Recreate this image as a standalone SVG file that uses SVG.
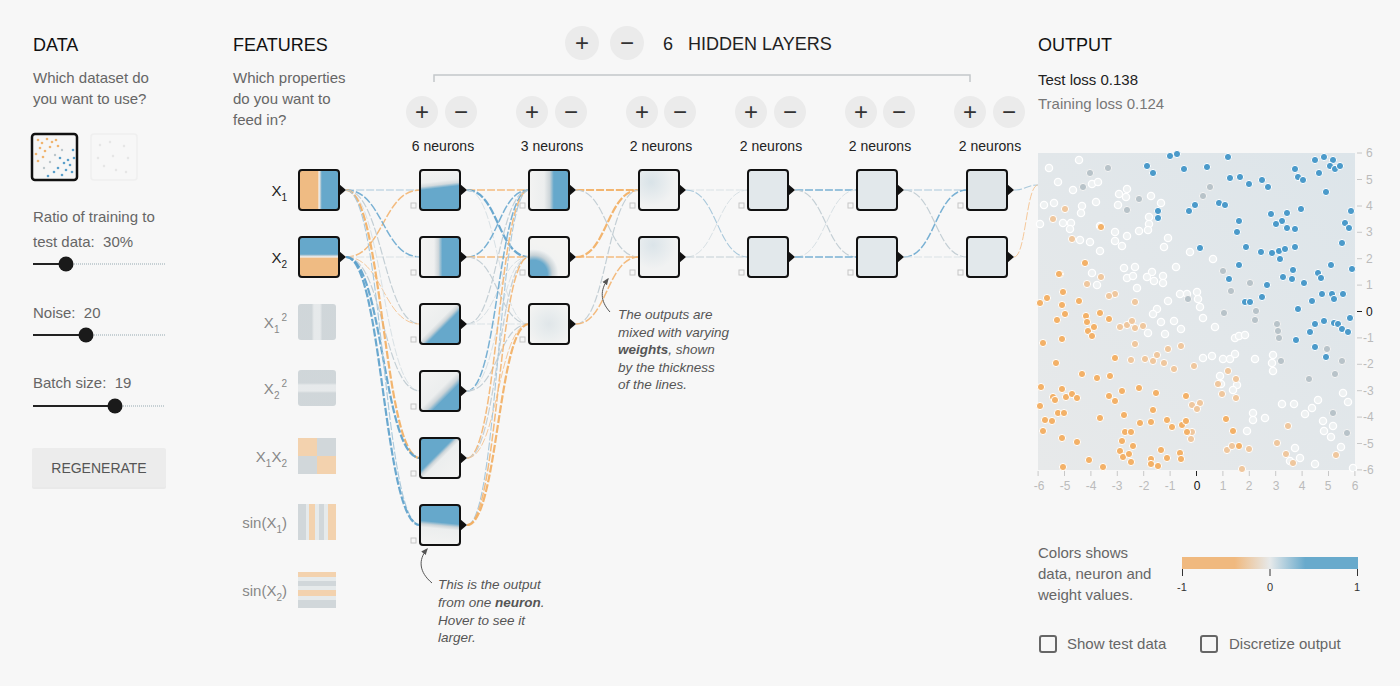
<svg xmlns="http://www.w3.org/2000/svg" width="1400" height="686" viewBox="0 0 1400 686">
<style>
text{font-family:"Liberation Sans",Arial,sans-serif}
.h{font-size:18px;fill:#111}
.t{font-size:15px;fill:#666}
.lbl{font-size:15px;fill:#222}
.lbi{font-size:15px;fill:#888}
.nl{font-size:14px;fill:#222;text-anchor:middle}
.btn{fill:#ebebeb}
.pm{font-size:24px;fill:#333;text-anchor:middle;font-weight:300}
.nb{stroke:#111;stroke-width:2}
.tri{fill:#111}
.bias{fill:none;stroke:#c6c6c6;stroke-width:1}
.lk{fill:none;stroke-dasharray:8 2}
.o1{stroke:#f2ad5f;stroke-width:2.2;opacity:.9}
.o2{stroke:#f3b470;stroke-width:1.5;opacity:.9}
.o3{stroke:#f4c08a;stroke-width:1;opacity:.85}
.b1{stroke:#5a9fca;stroke-width:2.2;opacity:.9}
.b2{stroke:#6aa9cf;stroke-width:1.5;opacity:.9}
.b3{stroke:#a9c8db;stroke-width:1.1}
.g1{stroke:#c4cfd5;stroke-width:1.2}
.g2{stroke:#d9e1e5;stroke-width:1}
.ax{font-size:12px;fill:#bbb}
.tk{stroke:#c8c8c8;stroke-width:1}
.ann{font-size:13.5px;fill:#555;font-style:italic}
.inact{opacity:.8}
.pb circle{fill:#4b9aca;stroke:#fff;stroke-width:1}
.po circle{fill:#f3b168;stroke:#fff;stroke-width:1}
.plo circle{fill:#efc79e;stroke:#fff;stroke-width:1}
.pw circle{fill:#eef1f2;stroke:#fff;stroke-width:1.3}
.pg circle{fill:#b8c3c9;stroke:#f4f4f4;stroke-width:1}
</style>
<defs>
<linearGradient id="gX1" x1="0" y1="0" x2="1" y2="0"><stop offset="0" stop-color="#efbb83"/><stop offset=".47" stop-color="#efbb83"/><stop offset=".5" stop-color="#f4f4f4"/><stop offset=".53" stop-color="#c8d3d8"/><stop offset=".57" stop-color="#66a8cb"/><stop offset="1" stop-color="#66a8cb"/></linearGradient>
<linearGradient id="gX2" x1="0" y1="0" x2="0" y2="1"><stop offset="0" stop-color="#66a8cb"/><stop offset=".43" stop-color="#66a8cb"/><stop offset=".47" stop-color="#c8d3d8"/><stop offset=".5" stop-color="#f4f4f4"/><stop offset=".53" stop-color="#efbb83"/><stop offset="1" stop-color="#efbb83"/></linearGradient>
<linearGradient id="gN1" x1="0" y1="0" x2="0.12" y2="1"><stop offset="0" stop-color="#f3f3f2"/><stop offset=".33" stop-color="#eceeee"/><stop offset=".42" stop-color="#d3dadd"/><stop offset=".5" stop-color="#66a8cb"/><stop offset="1" stop-color="#66a8cb"/></linearGradient>
<linearGradient id="gN2" x1="0" y1="0" x2="1" y2="0"><stop offset="0" stop-color="#f3f3f2"/><stop offset=".35" stop-color="#eeefef"/><stop offset=".46" stop-color="#ced6da"/><stop offset=".56" stop-color="#66a8cb"/><stop offset="1" stop-color="#66a8cb"/></linearGradient>
<linearGradient id="gN3" x1="0" y1="0" x2="1" y2="1"><stop offset="0" stop-color="#f3f3f2"/><stop offset=".45" stop-color="#eceeee"/><stop offset=".52" stop-color="#ccd4d8"/><stop offset=".58" stop-color="#66a8cb"/><stop offset="1" stop-color="#66a8cb"/></linearGradient>
<linearGradient id="gN4" x1="0" y1="0" x2="1" y2="1"><stop offset="0" stop-color="#f3f3f2"/><stop offset=".48" stop-color="#eceeee"/><stop offset=".57" stop-color="#ccd4d8"/><stop offset=".65" stop-color="#66a8cb"/><stop offset="1" stop-color="#66a8cb"/></linearGradient>
<linearGradient id="gN5" x1="0" y1="0" x2="1" y2="1"><stop offset="0" stop-color="#66a8cb"/><stop offset=".42" stop-color="#66a8cb"/><stop offset=".47" stop-color="#ccd4d8"/><stop offset=".53" stop-color="#eceeee"/><stop offset="1" stop-color="#f3f3f2"/></linearGradient>
<linearGradient id="gN6" x1="0" y1="0" x2="-0.1" y2="1"><stop offset="0" stop-color="#66a8cb"/><stop offset=".38" stop-color="#66a8cb"/><stop offset=".46" stop-color="#ccd4d8"/><stop offset=".54" stop-color="#eceeee"/><stop offset="1" stop-color="#f3f3f2"/></linearGradient>
<linearGradient id="gA" x1="0" y1="0" x2="1" y2="0"><stop offset="0" stop-color="#f3f3f2"/><stop offset=".38" stop-color="#eceeee"/><stop offset=".52" stop-color="#ccd4d8"/><stop offset=".62" stop-color="#66a8cb"/><stop offset="1" stop-color="#66a8cb"/></linearGradient>
<radialGradient id="gB" cx=".12" cy=".92" r=".75"><stop offset="0" stop-color="#66a8cb"/><stop offset=".45" stop-color="#66a8cb"/><stop offset=".62" stop-color="#c8d2d7"/><stop offset=".82" stop-color="#f1f2f2"/><stop offset="1" stop-color="#f3f3f2"/></radialGradient>
<radialGradient id="gC" cx=".5" cy=".5" r=".6"><stop offset="0" stop-color="#e0e6e9"/><stop offset=".5" stop-color="#e9edee"/><stop offset="1" stop-color="#f3f3f2"/></radialGradient>
<radialGradient id="gP" cx=".3" cy=".3" r=".6"><stop offset="0" stop-color="#d9e3e8"/><stop offset="1" stop-color="#f1f2f2"/></radialGradient>
<radialGradient id="gQ" cx=".35" cy=".2" r=".6"><stop offset="0" stop-color="#dbe4e9"/><stop offset="1" stop-color="#f1f2f2"/></radialGradient>
<linearGradient id="gX1s" x1="0" y1="0" x2="1" y2="0"><stop offset="0" stop-color="#c6ced2"/><stop offset=".36" stop-color="#c6ced2"/><stop offset=".42" stop-color="#e2e6e8"/><stop offset=".58" stop-color="#e2e6e8"/><stop offset=".64" stop-color="#c6ced2"/><stop offset="1" stop-color="#c6ced2"/></linearGradient>
<linearGradient id="gX2s" x1="0" y1="0" x2="0" y2="1"><stop offset="0" stop-color="#c6ced2"/><stop offset=".36" stop-color="#c6ced2"/><stop offset=".42" stop-color="#e2e6e8"/><stop offset=".58" stop-color="#e2e6e8"/><stop offset=".64" stop-color="#c6ced2"/><stop offset="1" stop-color="#c6ced2"/></linearGradient>
<linearGradient id="gOut" x1="1" y1="0" x2="0" y2="1"><stop offset="0" stop-color="#dde5ea"/><stop offset="1" stop-color="#e7e9ea"/></linearGradient>
<linearGradient id="gLeg" x1="0" y1="0" x2="1" y2="0"><stop offset="0" stop-color="#f0b97f"/><stop offset=".3" stop-color="#f0b97f"/><stop offset=".5" stop-color="#e6e9ea"/><stop offset=".7" stop-color="#68aacc"/><stop offset="1" stop-color="#68aacc"/></linearGradient>
<marker id="ah" viewBox="0 0 10 10" refX="8" refY="5" markerWidth="7" markerHeight="7" orient="auto"><path d="M0,1 L10,5 L0,9 Z" fill="#555"/></marker>
</defs>
<rect width="1400" height="686" fill="#f7f7f7"/>

<g id="data-panel">
<text class="h" x="33" y="51">DATA</text>
<text class="t" x="33" y="83">Which dataset do</text>
<text class="t" x="33" y="104">you want to use?</text>
<g id="dataset1">
<rect x="32" y="134" width="45" height="46" rx="3" fill="#f6f6f6" stroke="#111" stroke-width="2.5"/>
<g fill="#f0b46f"><circle cx="38" cy="140" r="1.3"/><circle cx="42" cy="143" r="1.3"/><circle cx="47" cy="139" r="1.3"/><circle cx="52" cy="142" r="1.3"/><circle cx="40" cy="148" r="1.3"/><circle cx="45" cy="151" r="1.3"/><circle cx="36" cy="154" r="1.3"/><circle cx="50" cy="147" r="1.3"/><circle cx="56" cy="140" r="1.3"/><circle cx="43" cy="157" r="1.3"/><circle cx="38" cy="161" r="1.3"/><circle cx="58" cy="146" r="1.3"/></g>
<g fill="#5a9fca"><circle cx="70" cy="165" r="1.3"/><circle cx="66" cy="170" r="1.3"/><circle cx="72" cy="172" r="1.3"/><circle cx="62" cy="175" r="1.3"/><circle cx="68" cy="160" r="1.3"/><circle cx="74" cy="158" r="1.3"/><circle cx="58" cy="168" r="1.3"/><circle cx="64" cy="163" r="1.3"/><circle cx="73" cy="150" r="1.3"/><circle cx="54" cy="172" r="1.3"/><circle cx="48" cy="176" r="1.3"/><circle cx="60" cy="158" r="1.3"/></g>
<g fill="#bcc6cb"><circle cx="55" cy="155" r="1.2"/><circle cx="62" cy="150" r="1.2"/><circle cx="44" cy="168" r="1.2"/><circle cx="50" cy="162" r="1.2"/></g>
</g>
<g id="dataset2" opacity="0.5">
<rect x="91" y="134" width="46" height="46" rx="3" fill="none" stroke="#e9e9e9" stroke-width="1.5"/>
<g fill="#d6d6d6"><circle cx="100" cy="145" r="1.2"/><circle cx="110" cy="142" r="1.2"/><circle cx="124" cy="146" r="1.2"/><circle cx="128" cy="158" r="1.2"/><circle cx="104" cy="166" r="1.2"/><circle cx="116" cy="170" r="1.2"/><circle cx="126" cy="172" r="1.2"/><circle cx="98" cy="158" r="1.2"/><circle cx="113" cy="156" r="1.2"/></g>
</g>
<text class="t" x="33" y="222">Ratio of training to</text>
<text class="t" x="33" y="247">test data:&#160; 30%</text>
<g id="slider-ratio"><line x1="66" y1="264" x2="165" y2="264" stroke="#b7c3c9" stroke-width="1.5" stroke-dasharray="1 1"/><line x1="33" y1="264" x2="66" y2="264" stroke="#222" stroke-width="2"/><circle cx="66" cy="264" r="7.5" fill="#1a1a1a"/></g>
<text class="t" x="33" y="318">Noise:&#160; 20</text>
<g id="slider-noise"><line x1="86" y1="335" x2="165" y2="335" stroke="#b7c3c9" stroke-width="1.5" stroke-dasharray="1 1"/><line x1="33" y1="335" x2="86" y2="335" stroke="#222" stroke-width="2"/><circle cx="86" cy="335" r="7.5" fill="#1a1a1a"/></g>
<text class="t" x="33" y="388">Batch size:&#160; 19</text>
<g id="slider-batch"><line x1="115" y1="406" x2="165" y2="406" stroke="#b7c3c9" stroke-width="1.5" stroke-dasharray="1 1"/><line x1="33" y1="406" x2="115" y2="406" stroke="#222" stroke-width="2"/><circle cx="115" cy="406" r="7.5" fill="#1a1a1a"/></g>
<g id="regenerate"><rect x="32" y="449" width="134" height="40" rx="2" fill="#e0e0e0" opacity=".6"/><rect x="32" y="448" width="134" height="39" rx="2" fill="#ececec"/><text x="99" y="473" font-family="Roboto,'Liberation Sans',sans-serif" font-size="14" font-weight="500" fill="#555" text-anchor="middle">REGENERATE</text></g>
</g>

<g id="features-panel">
<text class="h" x="233" y="51">FEATURES</text>
<text class="t" x="233" y="83">Which properties</text>
<text class="t" x="233" y="104">do you want to</text>
<text class="t" x="233" y="125">feed in?</text>
<text class="lbl" x="287" y="196" text-anchor="end">X<tspan font-size="10" dy="5">1</tspan></text>
<text class="lbl" x="287" y="263" text-anchor="end">X<tspan font-size="10" dy="5">2</tspan></text>
<text class="lbi" x="287" y="328" text-anchor="end">X<tspan font-size="10" dy="5">1</tspan><tspan font-size="10" dy="-12" dx="2">2</tspan></text>
<text class="lbi" x="287" y="394" text-anchor="end">X<tspan font-size="10" dy="5">2</tspan><tspan font-size="10" dy="-12" dx="2">2</tspan></text>
<text class="lbi" x="287" y="462" text-anchor="end">X<tspan font-size="10" dy="5">1</tspan><tspan dy="-5">X</tspan><tspan font-size="10" dy="5">2</tspan></text>
<text class="lbi" x="287" y="528" text-anchor="end">sin(X<tspan font-size="10" dy="5">1</tspan><tspan dy="-5">)</tspan></text>
<text class="lbi" x="287" y="596" text-anchor="end">sin(X<tspan font-size="10" dy="5">2</tspan><tspan dy="-5">)</tspan></text>
</g>

<g id="header">
<circle class="btn" cx="582" cy="43" r="17"/><text class="pm" x="582" y="51">+</text>
<circle class="btn" cx="627" cy="43" r="17"/><text class="pm" x="627" y="51">−</text>
<text x="663" y="50" font-size="18" fill="#222">6</text>
<text x="688" y="50" font-size="18" fill="#222">HIDDEN LAYERS</text>
<path d="M434,82 V75 H970 V82" fill="none" stroke="#c4c8ca" stroke-width="1.5"/>
</g>
<g id="layer-controls">
<circle class="btn" cx="422" cy="112" r="16"/><text class="pm" x="422" y="120">+</text><circle class="btn" cx="461" cy="112" r="16"/><text class="pm" x="461" y="120">−</text>
<circle class="btn" cx="532" cy="112" r="16"/><text class="pm" x="532" y="120">+</text><circle class="btn" cx="571" cy="112" r="16"/><text class="pm" x="571" y="120">−</text>
<circle class="btn" cx="642" cy="112" r="16"/><text class="pm" x="642" y="120">+</text><circle class="btn" cx="680" cy="112" r="16"/><text class="pm" x="680" y="120">−</text>
<circle class="btn" cx="751" cy="112" r="16"/><text class="pm" x="751" y="120">+</text><circle class="btn" cx="790" cy="112" r="16"/><text class="pm" x="790" y="120">−</text>
<circle class="btn" cx="861" cy="112" r="16"/><text class="pm" x="861" y="120">+</text><circle class="btn" cx="899" cy="112" r="16"/><text class="pm" x="899" y="120">−</text>
<circle class="btn" cx="970" cy="112" r="16"/><text class="pm" x="970" y="120">+</text><circle class="btn" cx="1009" cy="112" r="16"/><text class="pm" x="1009" y="120">−</text>
<text class="nl" x="443" y="151">6 neurons</text>
<text class="nl" x="552" y="151">3 neurons</text>
<text class="nl" x="661" y="151">2 neurons</text>
<text class="nl" x="771" y="151">2 neurons</text>
<text class="nl" x="880" y="151">2 neurons</text>
<text class="nl" x="990" y="151">2 neurons</text>
</g>

<g id="connectors">
<path class="lk b3" d="M346,190 C383,190 383,190 420,190"/>
<path class="lk o2" d="M346,257 C383,257 383,190 420,190"/>
<path class="lk b2" d="M346,190 C383,190 383,257 420,257"/>
<path class="lk g2" d="M346,257 C383,257 383,257 420,257"/>
<path class="lk g1" d="M346,190 C383,190 383,324 420,324"/>
<path class="lk o3" d="M346,257 C383,257 383,324 420,324"/>
<path class="lk g2" d="M346,190 C383,190 383,391 420,391"/>
<path class="lk g1" d="M346,257 C383,257 383,391 420,391"/>
<path class="lk o1" d="M346,190 C383,190 383,458 420,458"/>
<path class="lk b1" d="M346,257 C383,257 383,458 420,458"/>
<path class="lk b3" d="M346,190 C383,190 383,525 420,525"/>
<path class="lk b1" d="M346,257 C383,257 383,525 420,525"/>

<path class="lk o2" d="M467,190 C498,190 498,190 529,190"/>
<path class="lk b1" d="M467,190 C498,190 498,257 529,257"/>
<path class="lk g2" d="M467,190 C498,190 498,324 529,324"/>
<path class="lk b2" d="M467,257 C498,257 498,190 529,190"/>
<path class="lk o2" d="M467,257 C498,257 498,257 529,257"/>
<path class="lk g1" d="M467,257 C498,257 498,324 529,324"/>
<path class="lk g1" d="M467,324 C498,324 498,190 529,190"/>
<path class="lk g2" d="M467,324 C498,324 498,257 529,257"/>
<path class="lk g2" d="M467,324 C498,324 498,324 529,324"/>
<path class="lk b2" d="M467,391 C498,391 498,190 529,190"/>
<path class="lk g2" d="M467,391 C498,391 498,257 529,257"/>
<path class="lk g1" d="M467,391 C498,391 498,324 529,324"/>
<path class="lk o2" d="M467,458 C498,458 498,190 529,190"/>
<path class="lk g1" d="M467,458 C498,458 498,257 529,257"/>
<path class="lk o3" d="M467,458 C498,458 498,324 529,324"/>
<path class="lk b3" d="M467,525 C498,525 498,190 529,190"/>
<path class="lk o2" d="M467,525 C498,525 498,257 529,257"/>
<path class="lk o1" d="M467,525 C498,525 498,324 529,324"/>

<path class="lk o1" d="M576,190 C607,190 607,190 639,190"/>
<path class="lk g1" d="M576,190 C607,190 607,257 639,257"/>
<path class="lk o1" d="M576,257 C607,257 607,190 639,190"/>
<path class="lk o2" d="M576,257 C607,257 607,257 639,257"/>
<path class="lk g1" d="M576,324 C607,324 607,190 639,190"/>
<path class="lk o2" d="M576,324 C607,324 607,257 639,257"/>

<path class="lk g2" d="M686,190 C717,190 717,190 748,190"/>
<path class="lk b3" d="M686,190 C717,190 717,257 748,257"/>
<path class="lk g2" d="M686,257 C717,257 717,190 748,190"/>
<path class="lk g1" d="M686,257 C717,257 717,257 748,257"/>

<path class="lk b2" d="M795,190 C826,190 826,190 857,190"/>
<path class="lk g1" d="M795,190 C826,190 826,257 857,257"/>
<path class="lk g2" d="M795,257 C826,257 826,190 857,190"/>
<path class="lk b2" d="M795,257 C826,257 826,257 857,257"/>

<path class="lk b3" d="M904,190 C935,190 935,190 967,190"/>
<path class="lk g1" d="M904,190 C935,190 935,257 967,257"/>
<path class="lk b2" d="M904,257 C935,257 935,190 967,190"/>
<path class="lk g2" d="M904,257 C935,257 935,257 967,257"/>

<path class="lk b3" d="M1014,190 C1026,190 1026,185 1038,185"/>
<path class="lk o3" d="M1014,257 C1026,257 1026,185 1038,185"/>
</g>

<g id="in-x1"><rect x="299" y="170" width="40" height="40" rx="3" fill="url(#gX1)" class="nb"/><path class="tri" d="M339,184 L346,190 L339,196 Z"/></g>
<g id="in-x2"><rect x="299" y="237" width="40" height="40" rx="3" fill="url(#gX2)" class="nb"/><path class="tri" d="M339,251 L346,257 L339,263 Z"/></g>
<g id="in-x1sq" class="inact"><rect x="298" y="304" width="38" height="36" rx="3" fill="url(#gX1s)"/></g>
<g id="in-x2sq" class="inact"><rect x="298" y="370" width="38" height="36" rx="3" fill="url(#gX2s)"/></g>
<g id="in-x1x2" class="inact"><rect x="298" y="438" width="19" height="18" fill="#f3c99d"/><rect x="317" y="438" width="19" height="18" fill="#c8d0d4"/><rect x="298" y="456" width="19" height="18" fill="#c8d0d4"/><rect x="317" y="456" width="19" height="18" fill="#f3c99d"/></g>
<g id="in-sinx1" class="inact"><rect x="298" y="504" width="38" height="36" rx="3" fill="#e3e7e9"/><rect x="298" y="504" width="8" height="36" fill="#c8d0d4"/><rect x="309" y="504" width="6" height="36" fill="#f3c99d"/><rect x="319" y="504" width="5" height="36" fill="#c8d0d4"/><rect x="328" y="504" width="8" height="36" fill="#f3c99d"/></g>
<g id="in-sinx2" class="inact"><rect x="298" y="572" width="38" height="36" rx="3" fill="#e3e7e9"/><rect x="298" y="572" width="38" height="5" fill="#f3c99d"/><rect x="298" y="581" width="38" height="5" fill="#c8d0d4"/><rect x="298" y="590" width="38" height="6" fill="#f3c99d"/><rect x="298" y="600" width="38" height="8" fill="#c8d0d4"/></g>

<g id="h1-n1"><rect x="420" y="170" width="40" height="40" rx="3" fill="url(#gN1)" class="nb"/><path class="tri" d="M460,184 L467,190 L460,196 Z"/><rect class="bias" x="411" y="203" width="5" height="5"/></g>
<g id="h1-n2"><rect x="420" y="237" width="40" height="40" rx="3" fill="url(#gN2)" class="nb"/><path class="tri" d="M460,251 L467,257 L460,263 Z"/><rect class="bias" x="411" y="270" width="5" height="5"/></g>
<g id="h1-n3"><rect x="420" y="304" width="40" height="40" rx="3" fill="url(#gN3)" class="nb"/><path class="tri" d="M460,318 L467,324 L460,330 Z"/><rect class="bias" x="411" y="337" width="5" height="5"/></g>
<g id="h1-n4"><rect x="420" y="371" width="40" height="40" rx="3" fill="url(#gN4)" class="nb"/><path class="tri" d="M460,385 L467,391 L460,397 Z"/><rect class="bias" x="411" y="404" width="5" height="5"/></g>
<g id="h1-n5"><rect x="420" y="438" width="40" height="40" rx="3" fill="url(#gN5)" class="nb"/><path class="tri" d="M460,452 L467,458 L460,464 Z"/><rect class="bias" x="411" y="471" width="5" height="5"/></g>
<g id="h1-n6"><rect x="420" y="505" width="40" height="40" rx="3" fill="url(#gN6)" class="nb"/><path class="tri" d="M460,519 L467,525 L460,531 Z"/><rect class="bias" x="411" y="538" width="5" height="5"/></g>
<g id="h2-n1"><rect x="529" y="170" width="40" height="40" rx="3" fill="url(#gA)" class="nb"/><path class="tri" d="M569,184 L576,190 L569,196 Z"/><rect class="bias" x="520" y="203" width="5" height="5"/></g>
<g id="h2-n2"><rect x="529" y="237" width="40" height="40" rx="3" fill="url(#gB)" class="nb"/><path class="tri" d="M569,251 L576,257 L569,263 Z"/><rect class="bias" x="520" y="270" width="5" height="5"/></g>
<g id="h2-n3"><rect x="529" y="304" width="40" height="40" rx="3" fill="url(#gC)" class="nb"/><path class="tri" d="M569,318 L576,324 L569,330 Z"/><rect class="bias" x="520" y="337" width="5" height="5"/></g>
<g id="h3-n1"><rect x="639" y="170" width="40" height="40" rx="3" fill="url(#gP)" class="nb"/><path class="tri" d="M679,184 L686,190 L679,196 Z"/><rect class="bias" x="630" y="203" width="5" height="5"/></g>
<g id="h3-n2"><rect x="639" y="237" width="40" height="40" rx="3" fill="url(#gQ)" class="nb"/><path class="tri" d="M679,251 L686,257 L679,263 Z"/><rect class="bias" x="630" y="270" width="5" height="5"/></g>
<g id="h4-n1"><rect x="748" y="170" width="40" height="40" rx="3" fill="#e2e8eb" class="nb"/><path class="tri" d="M788,184 L795,190 L788,196 Z"/><rect class="bias" x="739" y="203" width="5" height="5"/></g>
<g id="h4-n2"><rect x="748" y="237" width="40" height="40" rx="3" fill="#e2e8eb" class="nb"/><path class="tri" d="M788,251 L795,257 L788,263 Z"/><rect class="bias" x="739" y="270" width="5" height="5"/></g>
<g id="h5-n1"><rect x="857" y="170" width="40" height="40" rx="3" fill="#e2e8eb" class="nb"/><path class="tri" d="M897,184 L904,190 L897,196 Z"/><rect class="bias" x="848" y="203" width="5" height="5"/></g>
<g id="h5-n2"><rect x="857" y="237" width="40" height="40" rx="3" fill="#e2e8eb" class="nb"/><path class="tri" d="M897,251 L904,257 L897,263 Z"/><rect class="bias" x="848" y="270" width="5" height="5"/></g>
<g id="h6-n1"><rect x="967" y="170" width="40" height="40" rx="3" fill="#dfe5e8" class="nb"/><path class="tri" d="M1007,184 L1014,190 L1007,196 Z"/><rect class="bias" x="958" y="203" width="5" height="5"/></g>
<g id="h6-n2"><rect x="967" y="237" width="40" height="40" rx="3" fill="#e2e8eb" class="nb"/><path class="tri" d="M1007,251 L1014,257 L1007,263 Z"/><rect class="bias" x="958" y="270" width="5" height="5"/></g>

<g id="ann-neuron">
<path d="M432,583 C419,572 418,560 427,549" fill="none" stroke="#555" stroke-width="1" marker-end="url(#ah)"/>
<text class="ann" x="438" y="589">This is the output</text>
<text class="ann" x="438" y="607">from one <tspan font-weight="bold">neuron</tspan>.</text>
<text class="ann" x="438" y="625">Hover to see it</text>
<text class="ann" x="438" y="642">larger.</text>
</g>
<g id="ann-weights">
<path d="M610,312 C600,301 600,290 608,279" fill="none" stroke="#555" stroke-width="1" marker-end="url(#ah)"/>
<text class="ann" x="618" y="319">The outputs are</text>
<text class="ann" x="618" y="337">mixed with varying</text>
<text class="ann" x="618" y="354"><tspan font-weight="bold">weights</tspan>, shown</text>
<text class="ann" x="618" y="372">by the thickness</text>
<text class="ann" x="618" y="389">of the lines.</text>
</g>

<g id="output-panel">
<text class="h" x="1038" y="51">OUTPUT</text>
<text x="1038" y="85" font-size="15" fill="#222">Test loss 0.138</text>
<text x="1038" y="109" font-size="15" fill="#777">Training loss 0.124</text>
<rect id="plot" x="1038" y="153" width="317" height="317" fill="url(#gOut)"/>
<g id="points">
<g class="pw">
<circle cx="1049" cy="168" r="3.6"/><circle cx="1079" cy="160" r="3.6"/><circle cx="1058" cy="182" r="3.6"/><circle cx="1073" cy="190" r="3.6"/><circle cx="1092" cy="184" r="3.6"/><circle cx="1098" cy="182" r="3.6"/><circle cx="1119" cy="194" r="3.6"/><circle cx="1127" cy="189" r="3.6"/><circle cx="1126" cy="197" r="3.6"/><circle cx="1151" cy="196" r="3.6"/><circle cx="1161" cy="203" r="3.6"/><circle cx="1044" cy="205" r="3.6"/><circle cx="1054" cy="203" r="3.6"/><circle cx="1082" cy="206" r="3.6"/><circle cx="1096" cy="202" r="3.6"/><circle cx="1081" cy="213" r="3.6"/><circle cx="1118" cy="205" r="3.6"/><circle cx="1149" cy="217" r="3.6"/><circle cx="1071" cy="223" r="3.6"/><circle cx="1063" cy="223" r="3.6"/><circle cx="1070" cy="229" r="3.6"/><circle cx="1149" cy="224" r="3.6"/><circle cx="1148" cy="230" r="3.6"/><circle cx="1139" cy="231" r="3.6"/><circle cx="1127" cy="236" r="3.6"/><circle cx="1115" cy="232" r="3.6"/><circle cx="1115" cy="241" r="3.6"/><circle cx="1122" cy="246" r="3.6"/><circle cx="1100" cy="226" r="3.6"/><circle cx="1090" cy="242" r="3.6"/><circle cx="1080" cy="240" r="3.6"/><circle cx="1100" cy="251" r="3.6"/><circle cx="1164" cy="247" r="3.6"/><circle cx="1168" cy="238" r="3.6"/><circle cx="1190" cy="252" r="3.6"/><circle cx="1213" cy="259" r="3.6"/><circle cx="1176" cy="267" r="3.6"/><circle cx="1135" cy="267" r="3.6"/><circle cx="1124" cy="268" r="3.6"/><circle cx="1152" cy="272" r="3.6"/><circle cx="1163" cy="276" r="3.6"/><circle cx="1147" cy="277" r="3.6"/><circle cx="1040" cy="224" r="3.6"/><circle cx="1092" cy="273" r="3.6"/><circle cx="1097" cy="285" r="3.6"/><circle cx="1127" cy="278" r="3.6"/><circle cx="1133" cy="276" r="3.6"/><circle cx="1154" cy="281" r="3.6"/><circle cx="1163" cy="283" r="3.6"/><circle cx="1137" cy="288" r="3.6"/><circle cx="1180" cy="294" r="3.6"/><circle cx="1197" cy="292" r="3.6"/><circle cx="1198" cy="299" r="3.6"/><circle cx="1200" cy="307" r="3.6"/><circle cx="1168" cy="301" r="3.6"/><circle cx="1157" cy="309" r="3.6"/><circle cx="1153" cy="314" r="3.6"/><circle cx="1203" cy="318" r="3.6"/><circle cx="1161" cy="322" r="3.6"/><circle cx="1174" cy="321" r="3.6"/><circle cx="1181" cy="329" r="3.6"/><circle cx="1165" cy="334" r="3.6"/><circle cx="1148" cy="333" r="3.6"/><circle cx="1215" cy="327" r="3.6"/><circle cx="1235" cy="338" r="3.6"/><circle cx="1239" cy="336" r="3.6"/><circle cx="1245" cy="335" r="3.6"/><circle cx="1203" cy="358" r="3.6"/><circle cx="1212" cy="356" r="3.6"/><circle cx="1223" cy="359" r="3.6"/><circle cx="1230" cy="359" r="3.6"/><circle cx="1235" cy="354" r="3.6"/><circle cx="1255" cy="359" r="3.6"/><circle cx="1272" cy="363" r="3.6"/><circle cx="1273" cy="355" r="3.6"/><circle cx="1273" cy="371" r="3.6"/><circle cx="1220" cy="376" r="3.6"/><circle cx="1221" cy="384" r="3.6"/><circle cx="1237" cy="385" r="3.6"/><circle cx="1233" cy="390" r="3.6"/><circle cx="1282" cy="404" r="3.6"/><circle cx="1294" cy="404" r="3.6"/><circle cx="1305" cy="414" r="3.6"/><circle cx="1312" cy="408" r="3.6"/><circle cx="1318" cy="400" r="3.6"/><circle cx="1253" cy="413" r="3.6"/><circle cx="1253" cy="420" r="3.6"/><circle cx="1265" cy="418" r="3.6"/><circle cx="1247" cy="431" r="3.6"/><circle cx="1323" cy="421" r="3.6"/><circle cx="1324" cy="431" r="3.6"/><circle cx="1331" cy="437" r="3.6"/><circle cx="1343" cy="393" r="3.6"/><circle cx="1348" cy="402" r="3.6"/><circle cx="1333" cy="426" r="3.6"/><circle cx="1341" cy="447" r="3.6"/><circle cx="1295" cy="448" r="3.6"/><circle cx="1300" cy="458" r="3.6"/><circle cx="1290" cy="461" r="3.6"/><circle cx="1315" cy="464" r="3.6"/><circle cx="1353" cy="468" r="3.6"/><circle cx="1187" cy="294" r="3.6"/>
</g>
<g class="pg">
<circle cx="1210" cy="187" r="3.6"/><circle cx="1108" cy="168" r="3.6"/><circle cx="1090" cy="173" r="3.6"/><circle cx="1083" cy="187" r="3.6"/><circle cx="1139" cy="199" r="3.6"/><circle cx="1127" cy="210" r="3.6"/><circle cx="1223" cy="271" r="3.6"/><circle cx="1203" cy="196" r="3.6"/><circle cx="1224" cy="313" r="3.6"/><circle cx="1231" cy="291" r="3.6"/><circle cx="1250" cy="283" r="3.6"/><circle cx="1256" cy="311" r="3.6"/><circle cx="1255" cy="320" r="3.6"/><circle cx="1278" cy="331" r="3.6"/><circle cx="1279" cy="338" r="3.6"/><circle cx="1277" cy="324" r="3.6"/><circle cx="1281" cy="361" r="3.6"/><circle cx="1327" cy="349" r="3.6"/><circle cx="1342" cy="361" r="3.6"/><circle cx="1335" cy="374" r="3.6"/><circle cx="1333" cy="413" r="3.6"/><circle cx="1347" cy="433" r="3.6"/><circle cx="1309" cy="379" r="3.6"/><circle cx="1188" cy="299" r="3.6"/>
</g>
<g class="plo">
<circle cx="1131" cy="360" r="3.6"/><circle cx="1145" cy="359" r="3.6"/><circle cx="1153" cy="361" r="3.6"/><circle cx="1157" cy="355" r="3.6"/><circle cx="1192" cy="432" r="3.6"/><circle cx="1191" cy="439" r="3.6"/><circle cx="1227" cy="450" r="3.6"/><circle cx="1232" cy="446" r="3.6"/><circle cx="1249" cy="449" r="3.6"/><circle cx="1242" cy="469" r="3.6"/><circle cx="1200" cy="403" r="3.6"/><circle cx="1192" cy="405" r="3.6"/><circle cx="1197" cy="409" r="3.6"/><circle cx="1181" cy="346" r="3.6"/><circle cx="1168" cy="349" r="3.6"/><circle cx="1174" cy="369" r="3.6"/><circle cx="1164" cy="363" r="3.6"/><circle cx="1135" cy="344" r="3.6"/><circle cx="1194" cy="366" r="3.6"/><circle cx="1120" cy="327" r="3.6"/><circle cx="1127" cy="325" r="3.6"/><circle cx="1132" cy="321" r="3.6"/><circle cx="1135" cy="328" r="3.6"/><circle cx="1143" cy="326" r="3.6"/><circle cx="1135" cy="302" r="3.6"/><circle cx="1115" cy="294" r="3.6"/><circle cx="1109" cy="296" r="3.6"/><circle cx="1087" cy="284" r="3.6"/><circle cx="1101" cy="277" r="3.6"/><circle cx="1228" cy="371" r="3.6"/><circle cx="1218" cy="384" r="3.6"/><circle cx="1222" cy="394" r="3.6"/><circle cx="1236" cy="379" r="3.6"/><circle cx="1236" cy="398" r="3.6"/><circle cx="1286" cy="454" r="3.6"/><circle cx="1293" cy="463" r="3.6"/><circle cx="1336" cy="455" r="3.6"/><circle cx="1277" cy="443" r="3.6"/><circle cx="1288" cy="426" r="3.6"/><circle cx="1065" cy="209" r="3.6"/><circle cx="1053" cy="219" r="3.6"/><circle cx="1072" cy="239" r="3.6"/>
</g>
<g class="po">
<circle cx="1060" cy="274" r="3.6"/><circle cx="1063" cy="292" r="3.6"/><circle cx="1047" cy="298" r="3.6"/><circle cx="1040" cy="303" r="3.6"/><circle cx="1079" cy="301" r="3.6"/><circle cx="1062" cy="305" r="3.6"/><circle cx="1065" cy="314" r="3.6"/><circle cx="1057" cy="320" r="3.6"/><circle cx="1086" cy="316" r="3.6"/><circle cx="1087" cy="322" r="3.6"/><circle cx="1100" cy="313" r="3.6"/><circle cx="1109" cy="319" r="3.6"/><circle cx="1088" cy="331" r="3.6"/><circle cx="1092" cy="336" r="3.6"/><circle cx="1094" cy="327" r="3.6"/><circle cx="1062" cy="339" r="3.6"/><circle cx="1043" cy="343" r="3.6"/><circle cx="1056" cy="363" r="3.6"/><circle cx="1115" cy="358" r="3.6"/><circle cx="1082" cy="374" r="3.6"/><circle cx="1097" cy="378" r="3.6"/><circle cx="1110" cy="376" r="3.6"/><circle cx="1041" cy="387" r="3.6"/><circle cx="1062" cy="389" r="3.6"/><circle cx="1053" cy="397" r="3.6"/><circle cx="1055" cy="400" r="3.6"/><circle cx="1066" cy="397" r="3.6"/><circle cx="1072" cy="394" r="3.6"/><circle cx="1077" cy="398" r="3.6"/><circle cx="1109" cy="396" r="3.6"/><circle cx="1115" cy="401" r="3.6"/><circle cx="1122" cy="391" r="3.6"/><circle cx="1139" cy="388" r="3.6"/><circle cx="1156" cy="393" r="3.6"/><circle cx="1186" cy="396" r="3.6"/><circle cx="1040" cy="406" r="3.6"/><circle cx="1058" cy="413" r="3.6"/><circle cx="1064" cy="413" r="3.6"/><circle cx="1045" cy="420" r="3.6"/><circle cx="1052" cy="421" r="3.6"/><circle cx="1100" cy="418" r="3.6"/><circle cx="1124" cy="415" r="3.6"/><circle cx="1153" cy="410" r="3.6"/><circle cx="1043" cy="431" r="3.6"/><circle cx="1062" cy="438" r="3.6"/><circle cx="1077" cy="442" r="3.6"/><circle cx="1140" cy="423" r="3.6"/><circle cx="1151" cy="422" r="3.6"/><circle cx="1167" cy="420" r="3.6"/><circle cx="1172" cy="427" r="3.6"/><circle cx="1182" cy="425" r="3.6"/><circle cx="1186" cy="421" r="3.6"/><circle cx="1187" cy="432" r="3.6"/><circle cx="1125" cy="432" r="3.6"/><circle cx="1131" cy="432" r="3.6"/><circle cx="1122" cy="441" r="3.6"/><circle cx="1133" cy="446" r="3.6"/><circle cx="1120" cy="451" r="3.6"/><circle cx="1123" cy="457" r="3.6"/><circle cx="1129" cy="454" r="3.6"/><circle cx="1131" cy="462" r="3.6"/><circle cx="1089" cy="460" r="3.6"/><circle cx="1103" cy="467" r="3.6"/><circle cx="1063" cy="467" r="3.6"/><circle cx="1151" cy="459" r="3.6"/><circle cx="1151" cy="464" r="3.6"/><circle cx="1158" cy="466" r="3.6"/><circle cx="1161" cy="450" r="3.6"/><circle cx="1167" cy="458" r="3.6"/><circle cx="1180" cy="453" r="3.6"/><circle cx="1181" cy="459" r="3.6"/><circle cx="1226" cy="419" r="3.6"/><circle cx="1233" cy="431" r="3.6"/><circle cx="1239" cy="446" r="3.6"/><circle cx="1085" cy="263" r="3.6"/><circle cx="1059" cy="274" r="3.6"/><circle cx="1101" cy="227" r="3.6"/>
</g>
<g class="pb">
<circle cx="1170" cy="156" r="3.6"/><circle cx="1177" cy="154" r="3.6"/><circle cx="1228" cy="157" r="3.6"/><circle cx="1147" cy="166" r="3.6"/><circle cx="1153" cy="173" r="3.6"/><circle cx="1184" cy="169" r="3.6"/><circle cx="1207" cy="167" r="3.6"/><circle cx="1230" cy="178" r="3.6"/><circle cx="1240" cy="177" r="3.6"/><circle cx="1249" cy="184" r="3.6"/><circle cx="1262" cy="180" r="3.6"/><circle cx="1268" cy="187" r="3.6"/><circle cx="1315" cy="160" r="3.6"/><circle cx="1324" cy="157" r="3.6"/><circle cx="1333" cy="160" r="3.6"/><circle cx="1330" cy="166" r="3.6"/><circle cx="1335" cy="169" r="3.6"/><circle cx="1340" cy="166" r="3.6"/><circle cx="1319" cy="173" r="3.6"/><circle cx="1295" cy="169" r="3.6"/><circle cx="1298" cy="177" r="3.6"/><circle cx="1303" cy="180" r="3.6"/><circle cx="1326" cy="192" r="3.6"/><circle cx="1219" cy="203" r="3.6"/><circle cx="1225" cy="205" r="3.6"/><circle cx="1189" cy="211" r="3.6"/><circle cx="1195" cy="205" r="3.6"/><circle cx="1239" cy="221" r="3.6"/><circle cx="1237" cy="232" r="3.6"/><circle cx="1271" cy="214" r="3.6"/><circle cx="1287" cy="213" r="3.6"/><circle cx="1301" cy="209" r="3.6"/><circle cx="1282" cy="221" r="3.6"/><circle cx="1276" cy="224" r="3.6"/><circle cx="1287" cy="228" r="3.6"/><circle cx="1295" cy="229" r="3.6"/><circle cx="1351" cy="211" r="3.6"/><circle cx="1345" cy="223" r="3.6"/><circle cx="1349" cy="228" r="3.6"/><circle cx="1342" cy="243" r="3.6"/><circle cx="1246" cy="247" r="3.6"/><circle cx="1261" cy="252" r="3.6"/><circle cx="1272" cy="253" r="3.6"/><circle cx="1279" cy="251" r="3.6"/><circle cx="1285" cy="249" r="3.6"/><circle cx="1295" cy="247" r="3.6"/><circle cx="1280" cy="259" r="3.6"/><circle cx="1239" cy="265" r="3.6"/><circle cx="1293" cy="270" r="3.6"/><circle cx="1331" cy="265" r="3.6"/><circle cx="1352" cy="269" r="3.6"/><circle cx="1318" cy="273" r="3.6"/><circle cx="1321" cy="278" r="3.6"/><circle cx="1283" cy="277" r="3.6"/><circle cx="1292" cy="279" r="3.6"/><circle cx="1200" cy="248" r="3.6"/><circle cx="1158" cy="211" r="3.6"/><circle cx="1158" cy="218" r="3.6"/><circle cx="1229" cy="279" r="3.6"/><circle cx="1267" cy="285" r="3.6"/><circle cx="1304" cy="283" r="3.6"/><circle cx="1245" cy="302" r="3.6"/><circle cx="1250" cy="302" r="3.6"/><circle cx="1262" cy="297" r="3.6"/><circle cx="1322" cy="294" r="3.6"/><circle cx="1312" cy="301" r="3.6"/><circle cx="1332" cy="294" r="3.6"/><circle cx="1334" cy="299" r="3.6"/><circle cx="1343" cy="294" r="3.6"/><circle cx="1324" cy="321" r="3.6"/><circle cx="1315" cy="324" r="3.6"/><circle cx="1310" cy="332" r="3.6"/><circle cx="1334" cy="323" r="3.6"/><circle cx="1338" cy="324" r="3.6"/><circle cx="1342" cy="329" r="3.6"/><circle cx="1348" cy="332" r="3.6"/><circle cx="1350" cy="318" r="3.6"/><circle cx="1296" cy="340" r="3.6"/><circle cx="1298" cy="309" r="3.6"/><circle cx="1315" cy="347" r="3.6"/><circle cx="1326" cy="357" r="3.6"/>
</g>
</g>
<g id="axis-right">
<line class="tk" x1="1357" y1="153" x2="1362" y2="153"/><text class="ax" x="1366" y="157">6</text>
<line class="tk" x1="1357" y1="179.5" x2="1362" y2="179.5"/><text class="ax" x="1366" y="183.5">5</text>
<line class="tk" x1="1357" y1="206" x2="1362" y2="206"/><text class="ax" x="1366" y="210">4</text>
<line class="tk" x1="1357" y1="232.3" x2="1362" y2="232.3"/><text class="ax" x="1366" y="236.3">3</text>
<line class="tk" x1="1357" y1="258.7" x2="1362" y2="258.7"/><text class="ax" x="1366" y="262.7">2</text>
<line class="tk" x1="1357" y1="285.1" x2="1362" y2="285.1"/><text class="ax" x="1366" y="289.1">1</text>
<line x1="1357" y1="311.5" x2="1362" y2="311.5" stroke="#222" stroke-width="1"/><text x="1366" y="315.5" font-size="12" fill="#111">0</text>
<line class="tk" x1="1357" y1="337.9" x2="1362" y2="337.9"/><text class="ax" x="1363" y="341.9">-1</text>
<line class="tk" x1="1357" y1="364.3" x2="1362" y2="364.3"/><text class="ax" x="1363" y="368.3">-2</text>
<line class="tk" x1="1357" y1="390.7" x2="1362" y2="390.7"/><text class="ax" x="1363" y="394.7">-3</text>
<line class="tk" x1="1357" y1="417.1" x2="1362" y2="417.1"/><text class="ax" x="1363" y="421.1">-4</text>
<line class="tk" x1="1357" y1="443.5" x2="1362" y2="443.5"/><text class="ax" x="1363" y="447.5">-5</text>
<line class="tk" x1="1357" y1="469.9" x2="1362" y2="469.9"/><text class="ax" x="1363" y="473.9">-6</text>
</g>
<g id="axis-bottom" text-anchor="middle">
<line class="tk" x1="1038.1" y1="471" x2="1038.1" y2="476"/><text class="ax" x="1039" y="490">-6</text>
<line class="tk" x1="1064.5" y1="471" x2="1064.5" y2="476"/><text class="ax" x="1065" y="490">-5</text>
<line class="tk" x1="1090.9" y1="471" x2="1090.9" y2="476"/><text class="ax" x="1091" y="490">-4</text>
<line class="tk" x1="1117.3" y1="471" x2="1117.3" y2="476"/><text class="ax" x="1117" y="490">-3</text>
<line class="tk" x1="1143.7" y1="471" x2="1143.7" y2="476"/><text class="ax" x="1144" y="490">-2</text>
<line class="tk" x1="1170.1" y1="471" x2="1170.1" y2="476"/><text class="ax" x="1170" y="490">-1</text>
<line x1="1196.5" y1="471" x2="1196.5" y2="476" stroke="#222" stroke-width="1"/><text x="1197" y="490" font-size="12" fill="#111">0</text>
<line class="tk" x1="1222.9" y1="471" x2="1222.9" y2="476"/><text class="ax" x="1223" y="490">1</text>
<line class="tk" x1="1249.3" y1="471" x2="1249.3" y2="476"/><text class="ax" x="1249" y="490">2</text>
<line class="tk" x1="1275.7" y1="471" x2="1275.7" y2="476"/><text class="ax" x="1276" y="490">3</text>
<line class="tk" x1="1302.1" y1="471" x2="1302.1" y2="476"/><text class="ax" x="1302" y="490">4</text>
<line class="tk" x1="1328.5" y1="471" x2="1328.5" y2="476"/><text class="ax" x="1328" y="490">5</text>
<line class="tk" x1="1354.9" y1="471" x2="1354.9" y2="476"/><text class="ax" x="1355" y="490">6</text>
</g>
<g id="legend">
<text class="t" x="1038" y="558">Colors shows</text>
<text class="t" x="1038" y="579">data, neuron and</text>
<text class="t" x="1038" y="600">weight values.</text>
<rect x="1182" y="557" width="176" height="12" fill="url(#gLeg)"/>
<line x1="1182.5" y1="569" x2="1182.5" y2="576" stroke="#333"/><line x1="1270" y1="569" x2="1270" y2="576" stroke="#333"/><line x1="1357.5" y1="569" x2="1357.5" y2="576" stroke="#333"/>
<text x="1182" y="591" font-size="11" fill="#333" text-anchor="middle">-1</text>
<text x="1270" y="591" font-size="11" fill="#333" text-anchor="middle">0</text>
<text x="1357" y="591" font-size="11" fill="#333" text-anchor="middle">1</text>
</g>
<g id="chk-test"><rect x="1040" y="636" width="16" height="16" rx="2" fill="none" stroke="#666" stroke-width="2"/><text class="t" x="1067" y="649">Show test data</text></g>
<g id="chk-discretize"><rect x="1201" y="636" width="16" height="16" rx="2" fill="none" stroke="#666" stroke-width="2"/><text class="t" x="1229" y="649">Discretize output</text></g>
</g>
</svg>
